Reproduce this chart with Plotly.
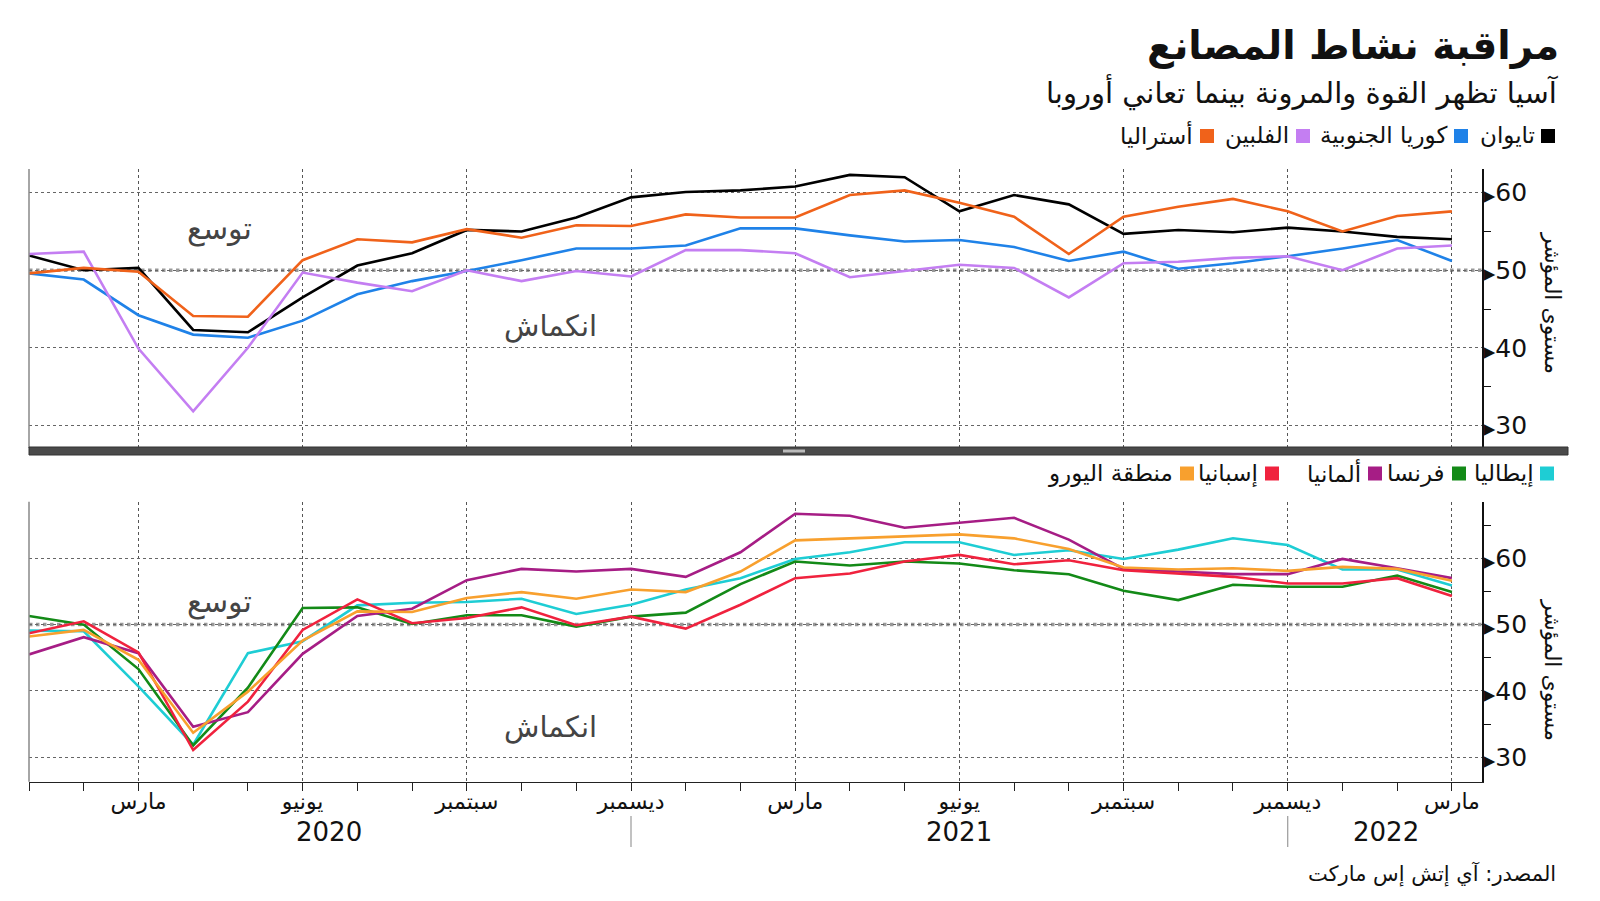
import plotly.graph_objects as go
import pandas as pd

# ---------------- data ----------------
months = pd.date_range("2020-01-01", periods=27, freq="MS")
month_names = {3: "مارس", 6: "يونيو", 9: "سبتمبر", 12: "ديسمبر"}

taiwan = [51.9, 50.0, 50.3, 42.3, 42.0, 46.5, 50.6, 52.2, 55.2, 55.0, 56.8, 59.4, 60.1, 60.3,
          60.8, 62.3, 62.0, 57.6, 59.7, 58.5, 54.7, 55.2, 54.9, 55.5, 55.0, 54.3, 54.0]
korea = [49.6, 48.8, 44.2, 41.7, 41.3, 43.5, 46.9, 48.6, 49.9, 51.3, 52.8, 52.8, 53.2, 55.4,
         55.4, 54.5, 53.7, 53.9, 53.0, 51.2, 52.4, 50.2, 50.9, 51.8, 52.8, 53.9, 51.2]
philippines = [52.1, 52.4, 39.9, 31.8, 40.0, 49.7, 48.4, 47.3, 50.0, 48.6, 49.9, 49.2, 52.6, 52.6,
               52.2, 49.1, 49.9, 50.7, 50.3, 46.5, 50.9, 51.1, 51.6, 51.8, 50.0, 52.8, 53.2]
australia = [49.6, 50.3, 49.8, 44.1, 44.0, 51.3, 54.0, 53.6, 55.3, 54.2, 55.8, 55.7, 57.2, 56.8,
             56.8, 59.7, 60.3, 58.7, 56.9, 52.1, 56.9, 58.2, 59.2, 57.6, 55.0, 57.0, 57.6]

italy = [49.1, 49.0, 40.7, 31.9, 45.7, 47.5, 52.9, 53.3, 53.4, 53.9, 51.6, 53.0, 55.3, 57.0,
         59.9, 60.9, 62.4, 62.4, 60.5, 61.2, 59.9, 61.3, 63.0, 62.0, 58.3, 58.3, 55.9]
france = [51.3, 50.0, 43.3, 31.8, 40.5, 52.5, 52.6, 50.1, 51.4, 51.4, 49.7, 51.2, 51.8, 56.1,
          59.5, 58.9, 59.5, 59.2, 58.2, 57.6, 55.1, 53.7, 56.0, 55.7, 55.7, 57.4, 54.9]
germany = [45.5, 48.1, 45.7, 34.6, 36.8, 45.6, 51.3, 52.4, 56.7, 58.4, 58.0, 58.4, 57.2, 60.9,
           66.7, 66.4, 64.6, 65.4, 66.1, 62.8, 58.4, 58.0, 57.6, 57.6, 59.9, 58.5, 57.0]
spain = [48.7, 50.5, 45.8, 31.1, 38.4, 49.2, 53.8, 50.2, 51.0, 52.6, 49.9, 51.2, 49.4, 53.0,
         57.0, 57.7, 59.5, 60.5, 59.1, 59.7, 58.2, 57.7, 57.2, 56.2, 56.2, 57.0, 54.3]
eurozone = [48.2, 49.2, 44.7, 33.7, 39.9, 47.6, 52.0, 51.9, 54.0, 54.9, 53.9, 55.3, 54.9, 58.0,
            62.7, 63.0, 63.2, 63.6, 63.0, 61.4, 58.6, 58.3, 58.5, 58.1, 58.7, 58.4, 56.6]

asia_names = ["تايوان", "كوريا الجنوبية", "الفلبين", "أستراليا"]
euro_names = ["إيطاليا", "فرنسا", "ألمانيا", "إسبانيا", "منطقة اليورو"]
y_ticks = [30, 40, 50, 60]
year_labels = ["2020", "2021", "2022"]

# ---------------- helpers ----------------
W, H = 1600, 901
def px(x):
    return x / W
def py(y):
    return 1 - y / H

FONT = "DejaVu Sans"
x = list(range(len(months)))
major_idx = [i for i, m in enumerate(months) if m.month in month_names]
major_txt = [month_names[months[i].month] for i in major_idx]

asia_colors = ["#000000", "#1f82e8", "#c47ef2", "#f0621a"]
euro_colors = ["#1ecdd4", "#138a17", "#a61d85", "#f0223e", "#f8a02e"]

fig = go.Figure()
for name, vals, col in zip(asia_names, [taiwan, korea, philippines, australia], asia_colors):
    fig.add_trace(go.Scatter(x=x, y=vals, name=name, mode="lines",
                             line=dict(color=col, width=2.6), xaxis="x", yaxis="y"))
for name, vals, col in zip(euro_names, [italy, france, germany, spain, eurozone], euro_colors):
    fig.add_trace(go.Scatter(x=x, y=vals, name=name, mode="lines",
                             line=dict(color=col, width=2.6), xaxis="x2", yaxis="y2"))

xdom = [px(29), px(1482)]
xrange_ = [0, 26.55]
tri = "<span style='font-size:15px'>▶</span>"
ytext = [tri + str(v) for v in y_ticks]

common_x = dict(domain=xdom, range=xrange_, tickmode="array", tickvals=major_idx,
                showgrid=True, gridcolor="#555", griddash="dot", gridwidth=1,
                zeroline=False, automargin=False)
fig.update_layout(
    xaxis=dict(**common_x, anchor="y", showticklabels=False, ticks="", showline=False),
    xaxis2=dict(**common_x, anchor="y2", ticktext=major_txt, ticks="outside", ticklen=8,
                tickcolor="#222", showline=True, linecolor="#222", linewidth=1.2,
                ticklabelstandoff=-8,
                tickfont=dict(family=FONT, size=22, color="#111"),
                minor=dict(dtick=1, tick0=0, ticks="outside", ticklen=8, tickcolor="#222",
                           showgrid=False)),
    yaxis=dict(domain=[py(448), py(169)], range=[27.07, 63.06], side="right", anchor="x",
               tickmode="array", tickvals=y_ticks, ticktext=ytext, ticks="",
               ticklabelstandoff=-5,
               showgrid=True, gridcolor="#666", griddash="dot", gridwidth=1,
               showline=True, linecolor="#111", linewidth=1.5, zeroline=False,
               tickfont=dict(family=FONT, size=25, color="#111"), automargin=False,
               minor=dict(tickvals=[35, 45, 55], ticks="outside", ticklen=7,
                          tickcolor="#111", showgrid=False)),
    yaxis2=dict(domain=[py(781.7), py(501.7)], range=[26.33, 68.52], side="right", anchor="x2",
                tickmode="array", tickvals=y_ticks, ticktext=ytext, ticks="",
                ticklabelstandoff=-5,
                showgrid=True, gridcolor="#666", griddash="dot", gridwidth=1,
                showline=True, linecolor="#111", linewidth=1.5, zeroline=False,
                tickfont=dict(family=FONT, size=25, color="#111"), automargin=False,
                minor=dict(tickvals=[35, 45, 55, 65], ticks="outside", ticklen=7,
                           tickcolor="#111", showgrid=False)),
    width=W, height=H, margin=dict(l=0, r=0, t=0, b=0),
    paper_bgcolor="white", plot_bgcolor="white", showlegend=False,
    font=dict(family=FONT, color="#111"),
)

shapes = []
# 50 reference lines (thick dotted)
for xa, ya in [("x", "y"), ("x2", "y2")]:
    shapes.append(dict(type="line", xref=xa + " domain", yref=ya, x0=0, x1=1, y0=50, y1=50,
                       line=dict(color="#999", width=3.5, dash="dot"), layer="below"))
# left gray edges
shapes.append(dict(type="line", xref="paper", yref="paper", x0=px(29), x1=px(29),
                   y0=py(448), y1=py(169), line=dict(color="#888", width=1.5)))
shapes.append(dict(type="line", xref="paper", yref="paper", x0=px(29), x1=px(29),
                   y0=py(781.7), y1=py(501.7), line=dict(color="#888", width=1.5)))
# divider bar
shapes.append(dict(type="rect", xref="paper", yref="paper", x0=px(29), x1=px(1568),
                   y0=py(455), y1=py(447), fillcolor="#4a4a4a", line=dict(color="#333", width=1)))
shapes.append(dict(type="rect", xref="paper", yref="paper", x0=px(783), x1=px(805),
                   y0=py(452.5), y1=py(449.5), fillcolor="#bbbbbb", line=dict(width=0)))
# year separators
for xi in [11, 23]:
    shapes.append(dict(type="line", xref="x2", yref="paper", x0=xi, x1=xi,
                       y0=py(847), y1=py(816), line=dict(color="#999", width=1.2)))

annotations = []
def txt(t, x, y, size, xanchor="right", color="#111", bold=False, textangle=0, xref="paper"):
    if bold:
        t = "<b>" + t + "</b>"
    annotations.append(dict(text=t, x=x, y=y, xref=xref, yref="paper", xanchor=xanchor,
                            yanchor="middle", showarrow=False, textangle=textangle,
                            font=dict(family=FONT, size=size, color=color)))

txt("مراقبة نشاط المصانع", px(1561), py(46), 39, bold=True)
txt("آسيا تظهر القوة والمرونة بينما تعاني أوروبا", px(1561), py(92), 29)

# legends
def legend_row(names, colors, sq_centers, label_rights, yc):
    for n, c, sc, lr in zip(names, colors, sq_centers, label_rights):
        shapes.append(dict(type="rect", xref="paper", yref="paper", x0=px(sc - 7), x1=px(sc + 7),
                           y0=py(yc + 7), y1=py(yc - 7), fillcolor=c, line=dict(width=0)))
        txt(n, px(lr), py(yc), 23)

legend_row(asia_names, asia_colors, [1548, 1461, 1303, 1207], [1537, 1449, 1291, 1195], 136)
legend_row(euro_names, euro_colors, [1547, 1459, 1375, 1272, 1187],
           [1536, 1447, 1363, 1260, 1175], 473.5)

# zone labels
for yc in [229, 602]:
    txt("توسع", px(219), py(yc), 30, xanchor="center", color="#444")
for yc in [326, 727]:
    txt("انكماش", px(550), py(yc), 29, xanchor="center", color="#444")

# y axis titles
for yc in [303, 670]:
    txt("مستوى المؤشر", px(1553), py(yc), 22, xanchor="center", textangle=90)

# year labels
for lab, xi in zip(year_labels, [5.48, 17.0, 24.8]):
    annotations.append(dict(text=lab, x=xi, y=py(832), xref="x2", yref="paper",
                            xanchor="center", yanchor="middle", showarrow=False,
                            font=dict(family=FONT, size=26, color="#111")))

txt("المصدر: آي إتش إس ماركت", px(1558), py(874), 21)

fig.update_layout(shapes=shapes, annotations=annotations)
fig.write_html("out.html", config={"displayModeBar": False},
               post_script="document.body.style.margin='0';")
